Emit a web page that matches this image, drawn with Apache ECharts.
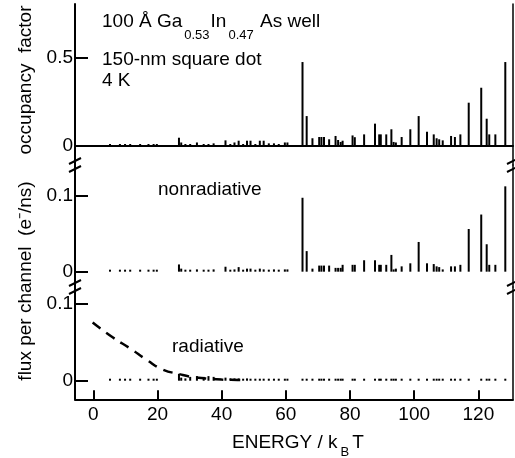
<!DOCTYPE html>
<html><head><meta charset="utf-8">
<script src="https://cdn.jsdelivr.net/npm/echarts@6/dist/echarts.min.js"></script>
<style>html,body{margin:0;padding:0;background:#fff}#c{width:515px;height:458px}</style>
</head><body><div id="c"></div>
<script>
// ---- data ----
const energies = [
  5.2, 8.3, 9.9, 11.5, 14.6, 17.2, 18.8, 19.8,
  26.7, 27.4, 28.7, 30.2, 32.3, 34.4, 35.9, 37.5,
  41.2, 42.7, 44.0, 45.3, 46.7, 47.9, 49.0, 50.5, 51.9, 53.1, 54.7, 56.3, 57.8, 59.7, 60.5,
  65.2, 66.5, 68.3, 70.4, 71.1, 71.9, 73.5, 75.5, 76.3, 77.1, 77.7, 80.8, 81.5, 84.4, 87.8,
  89.1, 89.6, 91.3, 92.9, 93.6, 94.3, 96.1, 98.8, 101.4, 104.0, 106.1, 107.0, 107.8, 108.9,
  111.5, 112.7, 114.4, 117.0, 120.9, 122.6, 123.4, 125.3, 128.4
];
const occupancy = [
  0.008, 0.008, 0.008, 0.008, 0.008, 0.008, 0.008, 0.008,
  0.047, 0.02, 0.01, 0.01, 0.02, 0.01, 0.01, 0.015,
  0.032, 0.01, 0.02, 0.03, 0.01, 0.03, 0.03, 0.01, 0.03, 0.03, 0.015, 0.015, 0.01, 0.02, 0.02,
  0.477, 0.17, 0.044, 0.051, 0.051, 0.051, 0.038, 0.057, 0.034, 0.023, 0.03, 0.06, 0.05, 0.066, 0.127,
  0.066, 0.066, 0.066, 0.095, 0.023, 0.02, 0.051, 0.095, 0.17, 0.081, 0.066, 0.044, 0.038, 0.032,
  0.057, 0.051, 0.066, 0.246, 0.331, 0.155, 0.066, 0.066, 0.477
];
const nonradiative = [
  0.001, 0.001, 0.001, 0.001, 0.001, 0.001, 0.001, 0.001,
  0.0095, 0.004, 0.002, 0.002, 0.003, 0.002, 0.002, 0.003,
  0.0065, 0.002, 0.003, 0.006, 0.002, 0.004, 0.004, 0.002, 0.004, 0.003, 0.002, 0.003, 0.002, 0.003, 0.003,
  0.097, 0.027, 0.004, 0.008, 0.008, 0.008, 0.008, 0.005, 0.005, 0.005, 0.009, 0.009, 0.009, 0.015, 0.015,
  0.009, 0.009, 0.009, 0.022, 0.003, 0.004, 0.007, 0.011, 0.039, 0.011, 0.01, 0.007, 0.006, 0.003,
  0.007, 0.007, 0.009, 0.056, 0.075, 0.036, 0.009, 0.009, 0.112
];
const radiative = [
  0.001, 0.001, 0.001, 0.001, 0.001, 0.001, 0.001, 0.001,
  0.009, 0.004, 0.003, 0.005, 0.006, 0.005, 0.006, 0.005,
  0.004, 0.003, 0.003, 0.003, 0.002, 0.003, 0.002, 0.001, 0.001, 0.001, 0.001, 0.001, 0.001, 0.001, 0.001,
  0.001, 0.001, 0.001, 0.001, 0.001, 0.001, 0.001, 0.001, 0.001, 0.001, 0.001, 0.001, 0.001, 0.001, 0.001,
  0.001, 0.001, 0.001, 0.001, 0.001, 0.001, 0.001, 0.001, 0.001, 0.001, 0.001, 0.001, 0.001, 0.001,
  0.001, 0.001, 0.001, 0.001, 0.001, 0.001, 0.001, 0.001, 0.001
];
const radCurveE = [-0.2, 6.25, 11.5, 16.7, 21.4, 27.1, 30.7, 35, 40, 45, 48];
const radCurveV = [0.076, 0.056, 0.042, 0.027, 0.015, 0.0083, 0.005, 0.003, 0.0015, 0.001, 0.0006];
const xTicks = [0, 20, 40, 60, 80, 100, 120];
const occTicks = [0, 0.5];
const fluxTicks = [0, 0.1];

// ---- layout / style ----
const FONT = '"Liberation Sans", Arial, Helvetica, sans-serif';
const FS = 19, SUB = 13;
const X_MIN = -5.7, X_MAX = 130.8;
const L = 75, R = 2;
const grids = [
  { left: L, right: R, top: 4, height: 161 },
  { left: L, right: R, top: 165, height: 122 },
  { left: L, right: R, top: 287, height: 112.3 }
];
const yRanges = [[-0.108, 0.8068], [-0.0201, 0.14], [-0.02425, 0.1222]];
const yTickSets = [occTicks, fluxTicks, fluxTicks];
const LW = 2;

const pairs = (xs, ys) => xs.map((x, i) => [x, ys[i]]);
const fmt = v => (v === 0 ? '0' : String(v));

const xAxes = grids.map((g, i) => ({
  type: 'value', gridIndex: i, min: X_MIN, max: X_MAX, show: i === 2,
  axisLine: { show: true, onZero: false, lineStyle: { color: '#000', width: LW } },
  axisTick: { show: true, inside: true, length: 9, customValues: xTicks, lineStyle: { color: '#000', width: LW } },
  axisLabel: { show: true, customValues: xTicks, margin: 6, color: '#000', fontSize: FS, fontFamily: FONT, formatter: fmt },
  splitLine: { show: false }
}));
xAxes.push({
  type: 'value', gridIndex: 0, position: 'top', min: X_MIN, max: X_MAX,
  axisLine: { show: true, lineStyle: { color: '#000', width: LW } },
  axisTick: { show: false }, axisLabel: { show: false }, splitLine: { show: false }
});

const yAxes = grids.map((g, i) => ({
  type: 'value', gridIndex: i, min: yRanges[i][0], max: yRanges[i][1],
  axisLine: { show: true, onZero: false, lineStyle: { color: '#000', width: LW } },
  axisTick: { show: true, inside: true, length: 13, customValues: yTickSets[i], lineStyle: { color: '#000', width: LW } },
  axisLabel: { show: true, customValues: yTickSets[i], margin: 2, color: '#000', fontSize: FS, fontFamily: FONT, formatter: fmt },
  splitLine: { show: false }
}));
grids.forEach((g, i) => yAxes.push({
  type: 'value', gridIndex: i, position: 'right', min: 0, max: 1,
  axisLine: { show: true, onZero: false, lineStyle: { color: '#000', width: 1.5 } },
  axisTick: { show: false }, axisLabel: { show: false }, splitLine: { show: false }
}));

const barBase = { type: 'bar', barWidth: 2, barMinHeight: 2, itemStyle: { color: '#000' }, silent: true, animation: false };

// text measurement for chaining sub/superscripts
const ctx = document.createElement('canvas').getContext('2d');
const tw = (t, s) => { ctx.font = s + 'px ' + FONT; return ctx.measureText(t).width; };

const txt = (x, y, text, size, extra) => Object.assign({
  type: 'text', x, y, silent: true,
  style: { text, fontSize: size, fontFamily: FONT, fill: '#000', align: 'left', verticalAlign: 'middle' }
}, extra || {});

const graphic = [];
// annotation line 1 with subscripts
let ax = 102;
[['100 Å Ga', FS, 22], ['0.53', SUB, 35], ['In', FS, 22], ['0.47', SUB, 35], [' As well', FS, 22]].forEach(([t, s, y], k) => {
  graphic.push(txt(ax, y, t, s));
  ax += tw(t, s) + (k === 1 || k === 3 ? 1 : 2);
});
graphic.push(txt(102, 60, '150-nm square dot', FS));
graphic.push(txt(102, 81, '4 K', FS));
graphic.push(txt(158, 190, 'nonradiative', FS));
graphic.push(txt(172, 347, 'radiative', FS));
// x title with subscript
let tx = 232;
[['ENERGY / k', FS, 443], ['B', SUB, 452], ['T', FS, 443]].forEach(([t, s, y]) => {
  graphic.push(txt(tx, y, t, s));
  tx += tw(t, s) + 3;
});
// y titles
graphic.push({ type: 'text', x: 26, y: 80, rotation: Math.PI / 2, silent: true,
  style: { text: 'occupancy  factor', fontSize: FS, fontFamily: FONT, fill: '#000', align: 'center', verticalAlign: 'middle' } });
graphic.push({ type: 'text', x: 26, y: 281, rotation: Math.PI / 2, silent: true,
  style: { text: 'flux per channel  (e\u207B/ns)', fontSize: FS, fontFamily: FONT, fill: '#000', align: 'center', verticalAlign: 'middle' } });
// axis break marks
const breaks = [grids[1].top, grids[2].top];
const edgeX = [L, 515 - R];
breaks.forEach(by => edgeX.forEach(ex => {
  [-4, 4].forEach(d => graphic.push({
    type: 'line', silent: true,
    shape: { x1: ex - 6, y1: by + d + 3, x2: ex + 6, y2: by + d - 3 },
    style: { stroke: '#000', lineWidth: 2 }
  }));
}));

const option = {
  animation: false,
  backgroundColor: '#fff',
  grid: grids,
  xAxis: xAxes,
  yAxis: yAxes,
  series: [
    Object.assign({ name: 'occupancy', xAxisIndex: 0, yAxisIndex: 0, data: pairs(energies, occupancy) }, barBase),
    Object.assign({ name: 'nonradiative', xAxisIndex: 1, yAxisIndex: 1, data: pairs(energies, nonradiative) }, barBase),
    Object.assign({ name: 'radiative', xAxisIndex: 2, yAxisIndex: 2, data: pairs(energies, radiative) }, barBase),
    { name: 'radiative curve', type: 'line', xAxisIndex: 2, yAxisIndex: 2, smooth: true, symbol: 'none', silent: true,
      data: pairs(radCurveE, radCurveV), lineStyle: { color: '#000', width: 2.5, type: [10, 7] } }
  ],
  graphic
};
const chart = echarts.init(document.getElementById('c'), null, { renderer: 'canvas' });
chart.setOption(option);
</script>
</body></html>
